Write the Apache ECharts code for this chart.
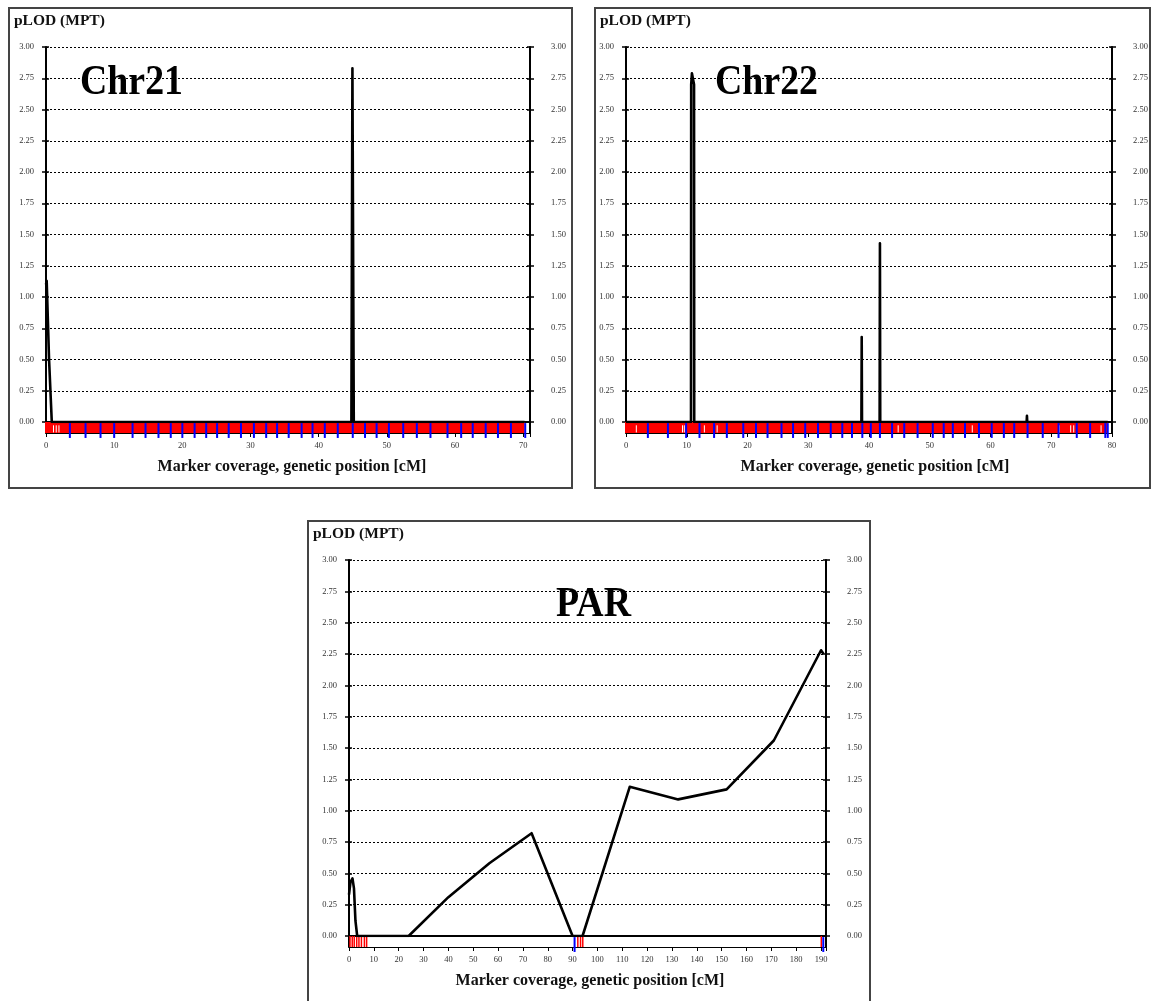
<!DOCTYPE html>
<html>
<head>
<meta charset="utf-8">
<script src="https://cdn.jsdelivr.net/npm/echarts@6/dist/echarts.min.js"></script>
<style>
  html, body { margin: 0; padding: 0; background: #fff; }
  #chart { width: 1154px; height: 1001px; }
</style>
</head>
<body>
<div id="chart"></div>
<script>
// ---- pLOD scale shared by every panel ----
const pLodMax = 3;
const pLodStep = 0.25;
const cmStep = 10;

// ---- Chr21 ----
// multipoint pLOD curve, [genetic position cM, pLOD]
const chr21Curve = [[0, 1.10], [0.1, 1.13], [0.45, 0.50], [0.85, 0], [44.8, 0], [44.95, 2.83], [45.15, 0], [70.2, 0]];
const chr21Length = 71;
const chr21RedRanges = [[0, 70.2]];
const chr21RedMarks = [];
const chr21WhiteMarks = [1.1, 1.5, 1.9];
const chr21BlueMarks = [3.5, 5.8, 8.0, 10.0, 12.7, 14.6, 16.5, 18.3, 20.0, 21.8, 23.5, 25.1, 26.8, 28.6, 30.5, 32.3,
  33.9, 35.6, 37.5, 39.1, 40.9, 42.8, 45.0, 46.8, 48.5, 50.3, 52.4, 54.4, 56.4, 58.9, 60.9, 62.6, 64.5, 66.3, 68.2, 70.3];

// ---- Chr22 ----
const chr22Curve = [[0, 0], [10.7, 0], [10.73, 2.70], [10.85, 2.79], [11.05, 2.78], [11.2, 2.70], [11.23, 0],
  [38.75, 0], [38.8, 0.68], [38.85, 0], [41.75, 0], [41.8, 1.43], [41.85, 0], [65.95, 0], [66.0, 0.05], [66.05, 0], [79.3, 0]];
const chr22Length = 80;
const chr22RedRanges = [[0, 79.3]];
const chr22RedMarks = [];
const chr22WhiteMarks = [1.7, 9.3, 9.6, 12.9, 15.0, 44.8, 48.0, 57.0, 71.3, 73.2, 73.7, 78.2];
const chr22BlueMarks = [3.6, 6.9, 9.9, 12.1, 14.5, 16.6, 19.3, 21.4, 23.3, 25.6, 27.5, 29.5, 31.6, 33.7, 35.6, 37.2,
  38.9, 40.3, 41.8, 43.8, 45.8, 48.0, 50.5, 52.3, 53.8, 55.8, 58.1, 60.2, 62.2, 63.9, 66.1, 68.6, 71.2, 74.2, 76.4, 78.9, 79.3];

// ---- PAR ----
const parCurve = [[0, 0.33], [0.6, 0.43], [1.4, 0.46], [2.0, 0.38], [2.6, 0.12], [3.3, 0], [24, 0], [40, 0.31],
  [56.5, 0.58], [73.5, 0.82], [90, 0], [94, 0], [113, 1.19], [132.5, 1.09], [152, 1.17], [171, 1.56], [190, 2.28], [191, 2.25]];
const parLength = 192;
const parRedRanges = [];
const parRedMarks = [0.4, 1.3, 2.1, 3.1, 4.0, 5.0, 6.2, 7.1, 92.1, 93.2, 94.1, 190.1];
const parWhiteMarks = [];
const parBlueMarks = [90.8, 190.9];

// ---- text ----
const yTitle = 'pLOD (MPT)';
const xTitle = 'Marker coverage, genetic position [cM]';

const SERIF = '"Liberation Serif", "Times New Roman", serif';
const tickFont = { fontFamily: SERIF, fontSize: 8.5, color: '#333' };

const option = {
  animation: false,
  backgroundColor: '#fff',
  grid: [], xAxis: [], yAxis: [], series: [], graphic: []
};

function addPanel(p) {
  const g = option.grid.length;
  const trackH = 11;
  option.grid.push({ left: p.left, top: p.top, width: p.width, height: p.height, containLabel: false });
  option.grid.push({ left: p.left, top: p.top + p.height, width: p.width, height: trackH, containLabel: false });

  const xa = option.xAxis.length;
  // plot x axis (baseline)
  option.xAxis.push({
    gridIndex: g, type: 'value', min: 0, max: p.length, position: 'bottom',
    axisLine: { show: true, lineStyle: { color: '#000', width: 1 } },
    axisTick: { show: false }, axisLabel: { show: false }, splitLine: { show: false }
  });
  // plot frame top
  option.xAxis.push({
    gridIndex: g, type: 'value', min: 0, max: p.length, position: 'top',
    axisLine: { show: true, lineStyle: { color: '#000', width: 2 } },
    axisTick: { show: false }, axisLabel: { show: false }, splitLine: { show: false }
  });
  // marker track axis with the cM labels
  option.xAxis.push({
    gridIndex: g + 1, type: 'value', min: 0, max: p.length, interval: cmStep, position: 'bottom',
    axisLine: { show: true, lineStyle: { color: '#000', width: 1 } },
    axisTick: { show: true, length: 4, lineStyle: { color: '#000', width: 1 } },
    axisLabel: Object.assign({ margin: 8, formatter: v => (v % cmStep === 0 ? String(v) : '') }, tickFont),
    splitLine: { show: false }
  });

  const ya = option.yAxis.length;
  const yBase = { gridIndex: g, type: 'value', min: 0, max: pLodMax, interval: pLodStep };
  option.yAxis.push(Object.assign({}, yBase, {
    position: 'left',
    axisLine: { show: true, lineStyle: { color: '#000', width: 2 } },
    axisTick: { show: true, length: 4, lineStyle: { color: '#000', width: 1.5 } },
    axisLabel: Object.assign({ margin: 12, formatter: v => v.toFixed(2) }, tickFont),
    splitLine: { show: true, lineStyle: { color: '#000', width: 1, type: [2, 2] } }
  }));
  option.yAxis.push(Object.assign({}, yBase, {
    position: 'left', axisLine: { show: false },
    axisTick: { show: true, inside: true, length: 3, lineStyle: { color: '#000', width: 1.5 } },
    axisLabel: { show: false }, splitLine: { show: false }
  }));
  option.yAxis.push(Object.assign({}, yBase, {
    position: 'right',
    axisLine: { show: true, lineStyle: { color: '#000', width: 2 } },
    axisTick: { show: true, length: 4, lineStyle: { color: '#000', width: 1.5 } },
    axisLabel: Object.assign({ margin: 21, formatter: v => v.toFixed(2) }, tickFont),
    splitLine: { show: false }
  }));
  option.yAxis.push(Object.assign({}, yBase, {
    position: 'right', axisLine: { show: false },
    axisTick: { show: true, inside: true, length: 3, lineStyle: { color: '#000', width: 1.5 } },
    axisLabel: { show: false }, splitLine: { show: false }
  }));
  // marker track side lines
  ['left', 'right'].forEach(pos => option.yAxis.push({
    gridIndex: g + 1, type: 'value', min: 0, max: 1, position: pos,
    axisLine: { show: true, lineStyle: { color: '#000', width: 2 } },
    axisTick: { show: false }, axisLabel: { show: false }, splitLine: { show: false }
  }));
  const trackY = ya + 4;

  // pLOD curve
  option.series.push({
    type: 'line', xAxisIndex: xa, yAxisIndex: ya, data: p.curve,
    symbol: 'none', z: 5,
    lineStyle: { color: '#000', width: 2.6, join: 'round' }
  });

  const markLine = (color, width, y1, y2) => (params, api) => {
    const a = api.coord([api.value(0), y1]);
    const b = api.coord([api.value(0), y2]);
    return { type: 'line', shape: { x1: a[0], y1: a[1], x2: b[0], y2: b[1] }, style: { stroke: color, lineWidth: width } };
  };

  // dense marker coverage
  option.series.push({
    type: 'custom', xAxisIndex: xa + 2, yAxisIndex: trackY, clip: false, z: 3,
    data: p.redRanges, encode: { x: [0, 1] },
    renderItem: (params, api) => {
      const a = api.coord([api.value(0), 1]);
      const b = api.coord([api.value(1), 0]);
      return { type: 'rect', shape: { x: a[0] - 1, y: a[1], width: b[0] - a[0] + 1, height: b[1] - a[1] }, style: { fill: '#ff0000' } };
    }
  });
  option.series.push({
    type: 'custom', xAxisIndex: xa + 2, yAxisIndex: trackY, clip: false, z: 4,
    data: p.redMarks.map(v => [v]), encode: { x: 0 },
    renderItem: markLine('#ff0000', 1.5, 1, 0)
  });
  option.series.push({
    type: 'custom', xAxisIndex: xa + 2, yAxisIndex: trackY, clip: false, z: 4,
    data: p.whiteMarks.map(v => [v]), encode: { x: 0 },
    renderItem: markLine('#ffffff', 1, 0.7, 0.05)
  });
  option.series.push({
    type: 'custom', xAxisIndex: xa + 2, yAxisIndex: trackY, clip: false, z: 6,
    data: p.blueMarks.map(v => [v]), encode: { x: 0 },
    renderItem: markLine('#0000ff', 2, 0.9, -0.45)
  });

  // panel frame and texts
  option.graphic.push({
    type: 'rect', shape: { x: p.frame[0], y: p.frame[1], width: p.frame[2], height: p.frame[3] },
    style: { fill: 'none', stroke: '#444', lineWidth: 2 }, z: 100, silent: true
  });
  option.graphic.push({
    type: 'text', x: p.frame[0] + 5, y: p.frame[1] + 13,
    style: { text: yTitle, font: 'bold 15.5px ' + SERIF, fill: '#111', verticalAlign: 'middle' }, z: 100
  });
  option.graphic.push({
    type: 'text', x: p.nameX, y: p.nameY, scaleX: 0.88,
    style: { text: p.name, font: 'bold 43px ' + SERIF, fill: '#000', verticalAlign: 'middle' }, z: 100
  });
  option.graphic.push({
    type: 'text', x: p.xTitleX, y: p.top + p.height + 45,
    style: { text: xTitle, font: 'bold 16px ' + SERIF, fill: '#111', align: 'center', verticalAlign: 'middle' }, z: 100
  });
}

addPanel({
  name: 'Chr21', frame: [9, 8, 563, 480], left: 46, top: 47, width: 484, height: 375,
  length: chr21Length, curve: chr21Curve, redRanges: chr21RedRanges, redMarks: chr21RedMarks,
  whiteMarks: chr21WhiteMarks, blueMarks: chr21BlueMarks, nameX: 80, nameY: 83, xTitleX: 292
});
addPanel({
  name: 'Chr22', frame: [595, 8, 555, 480], left: 626, top: 47, width: 486, height: 375,
  length: chr22Length, curve: chr22Curve, redRanges: chr22RedRanges, redMarks: chr22RedMarks,
  whiteMarks: chr22WhiteMarks, blueMarks: chr22BlueMarks, nameX: 715, nameY: 83, xTitleX: 875
});
addPanel({
  name: 'PAR', frame: [308, 521, 562, 490], left: 349, top: 560, width: 477, height: 376,
  length: parLength, curve: parCurve, redRanges: parRedRanges, redMarks: parRedMarks,
  whiteMarks: parWhiteMarks, blueMarks: parBlueMarks, nameX: 556, nameY: 605, xTitleX: 590
});

const chart = echarts.init(document.getElementById('chart'), null, { renderer: 'canvas' });
chart.setOption(option);
</script>
</body>
</html>
